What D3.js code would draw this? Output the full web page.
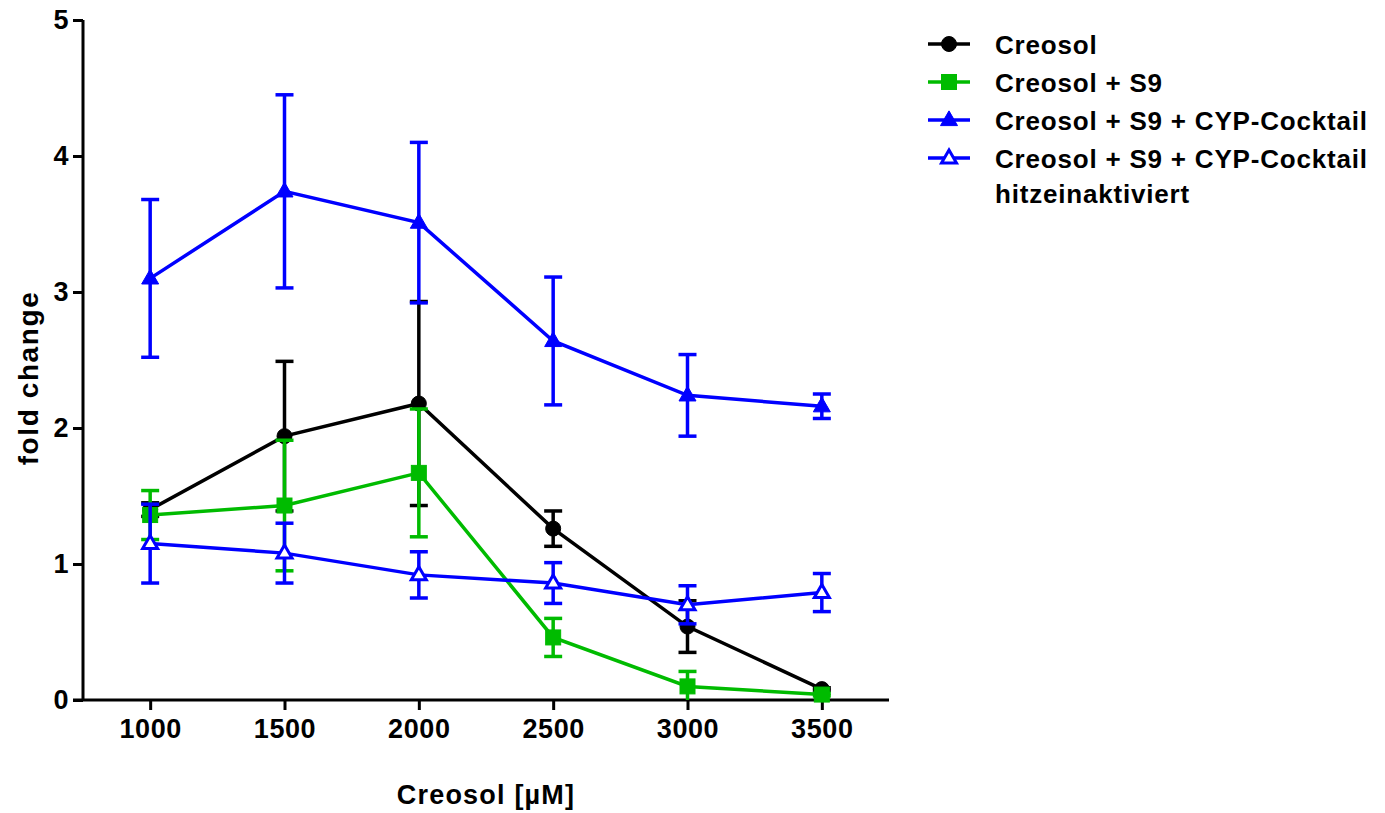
<!DOCTYPE html>
<html>
<head>
<meta charset="utf-8">
<script src="https://cdn.jsdelivr.net/npm/d3@7"></script>
<style>
  html, body { margin: 0; padding: 0; background: #fff; }
  svg { display: block; }
  text { font-family: "Liberation Sans", Arial, sans-serif; font-weight: bold; fill: #000; }
</style>
</head>
<body>
<svg id="chart" width="1385" height="813"></svg>
<script>
// Concentrations (µM)
const concentrations = [1000, 1500, 2000, 2500, 3000, 3500];
const xTicks = [1000, 1500, 2000, 2500, 3000, 3500];
const yTicks = [0, 1, 2, 3, 4, 5];

// Fold change means and error (SEM) per condition
const creosolMean = [1.40, 1.94, 2.18, 1.26, 0.54, 0.08];
const creosolErr  = [0.05, 0.55, 0.75, 0.13, 0.19, 0.01];
const s9Mean      = [1.36, 1.43, 1.67, 0.46, 0.10, 0.04];
const s9Err       = [0.18, 0.48, 0.47, 0.14, 0.11, 0.01];
const cypMean     = [3.10, 3.74, 3.51, 2.64, 2.24, 2.16];
const cypErr      = [0.58, 0.71, 0.59, 0.47, 0.30, 0.09];
const heatMean    = [1.15, 1.08, 0.92, 0.86, 0.70, 0.79];
const heatErr     = [0.29, 0.22, 0.17, 0.15, 0.14, 0.14];

const seriesNames = [
  ["Creosol"],
  ["Creosol + S9"],
  ["Creosol + S9 + CYP-Cocktail"],
  ["Creosol + S9 + CYP-Cocktail", "hitzeinaktiviert"]
];

const series = [
  { name: seriesNames[0], mean: creosolMean, err: creosolErr, color: "#000000", marker: "circle", fill: true },
  { name: seriesNames[1], mean: s9Mean, err: s9Err, color: "#00bb00", marker: "square", fill: true },
  { name: seriesNames[2], mean: cypMean, err: cypErr, color: "#0000ff", marker: "triangle", fill: true },
  { name: seriesNames[3], mean: heatMean, err: heatErr, color: "#0000ff", marker: "triangle", fill: false }
];

const svg = d3.select("#chart");
const plot = { left: 83, right: 889, top: 20, bottom: 700 };

const x = d3.scaleLinear().domain([750, 3750]).range([plot.left, plot.right]);
const y = d3.scaleLinear().domain([0, 5]).range([plot.bottom, plot.top]);

// Axes
const xAxis = svg.append("g")
  .attr("transform", `translate(0,${plot.bottom})`)
  .call(d3.axisBottom(x).tickValues(xTicks).tickFormat(d3.format("d")).tickSize(10).tickPadding(9));
const yAxis = svg.append("g")
  .attr("transform", `translate(${plot.left},0)`)
  .call(d3.axisLeft(y).tickValues(yTicks).tickFormat(d3.format("d")).tickSize(10).tickPadding(4));

[xAxis, yAxis].forEach(a => {
  a.select(".domain").attr("stroke", "#000").attr("stroke-width", 3);
  a.selectAll(".tick line").attr("stroke", "#000").attr("stroke-width", 3);
  a.selectAll(".tick text").style("font-size", "27px").style("font-weight", "bold")
    .style("letter-spacing", "0.6px")
    .style("font-family", "'Liberation Sans', Arial, sans-serif").attr("fill", "#000");
});
// extend x-axis line to meet the y-axis tick at 0
xAxis.select(".domain").attr("d", `M${plot.left - 10},0H${plot.right}`);
yAxis.select(".domain").attr("d", `M0,${plot.top}V${plot.bottom}`);

// Axis titles
svg.append("text")
  .attr("x", 486)
  .attr("y", 804)
  .attr("text-anchor", "middle")
  .style("font-size", "27px")
  .style("letter-spacing", "1.2px")
  .text("Creosol [µM]");

svg.append("text")
  .attr("transform", `translate(38,378) rotate(-90)`)
  .attr("text-anchor", "middle")
  .style("font-size", "28px")
  .style("letter-spacing", "1.6px")
  .text("fold change");

// Marker drawing helper
function drawMarker(g, type, cx, cy, color, filled) {
  if (type === "circle") {
    g.append("circle").attr("cx", cx).attr("cy", cy).attr("r", 7.5)
      .attr("fill", filled ? color : "#fff").attr("stroke", color).attr("stroke-width", 1);
  } else if (type === "square") {
    g.append("rect").attr("x", cx - 7.5).attr("y", cy - 7.5).attr("width", 15).attr("height", 15)
      .attr("fill", filled ? color : "#fff").attr("stroke", color).attr("stroke-width", 1);
  } else {
    const s = filled ? 17 : 15;
    const h = s * Math.sqrt(3) / 2;
    const pts = [[cx, cy - h * 0.62], [cx + s / 2, cy + h * 0.38], [cx - s / 2, cy + h * 0.38]];
    g.append("path").attr("d", "M" + pts.map(p => p.join(",")).join("L") + "Z")
      .attr("fill", filled ? color : "#fff").attr("stroke", color)
      .attr("stroke-width", filled ? 1 : 3).attr("stroke-linejoin", "miter");
  }
}

const line = d3.line().x(d => x(d.c)).y(d => y(d.m));
const capHalf = 9;

series.forEach(s => {
  const g = svg.append("g");
  const pts = concentrations.map((c, i) => ({ c, m: s.mean[i], e: s.err[i] }));

  // error bars
  pts.forEach(p => {
    const lo = Math.max(0, p.m - p.e), hi = p.m + p.e;
    g.append("line").attr("x1", x(p.c)).attr("x2", x(p.c)).attr("y1", y(lo)).attr("y2", y(hi))
      .attr("stroke", s.color).attr("stroke-width", 3.5);
    [hi, lo].forEach(v => {
      if (v <= 0) return;
      g.append("line").attr("x1", x(p.c) - capHalf).attr("x2", x(p.c) + capHalf)
        .attr("y1", y(v)).attr("y2", y(v)).attr("stroke", s.color).attr("stroke-width", 3.5);
    });
  });

  // connecting line
  g.append("path").datum(pts).attr("d", line).attr("fill", "none")
    .attr("stroke", s.color).attr("stroke-width", 3.5);

  pts.forEach(p => drawMarker(g, s.marker, x(p.c), y(p.m), s.color, s.fill));
});

// Legend
const legend = svg.append("g");
const legendRows = [44, 82, 120, 158];
series.forEach((s, i) => {
  const ly = legendRows[i];
  legend.append("line").attr("x1", 928).attr("x2", 970).attr("y1", ly).attr("y2", ly)
    .attr("stroke", s.color).attr("stroke-width", 3.5);
  drawMarker(legend, s.marker, 949, ly, s.color, s.fill);
  s.name.forEach((t, k) => {
    legend.append("text").attr("x", 995).attr("y", ly + 10 + k * 35)
      .style("font-size", "26px").style("letter-spacing", "0.8px").text(t);
  });
});
</script>
</body>
</html>
